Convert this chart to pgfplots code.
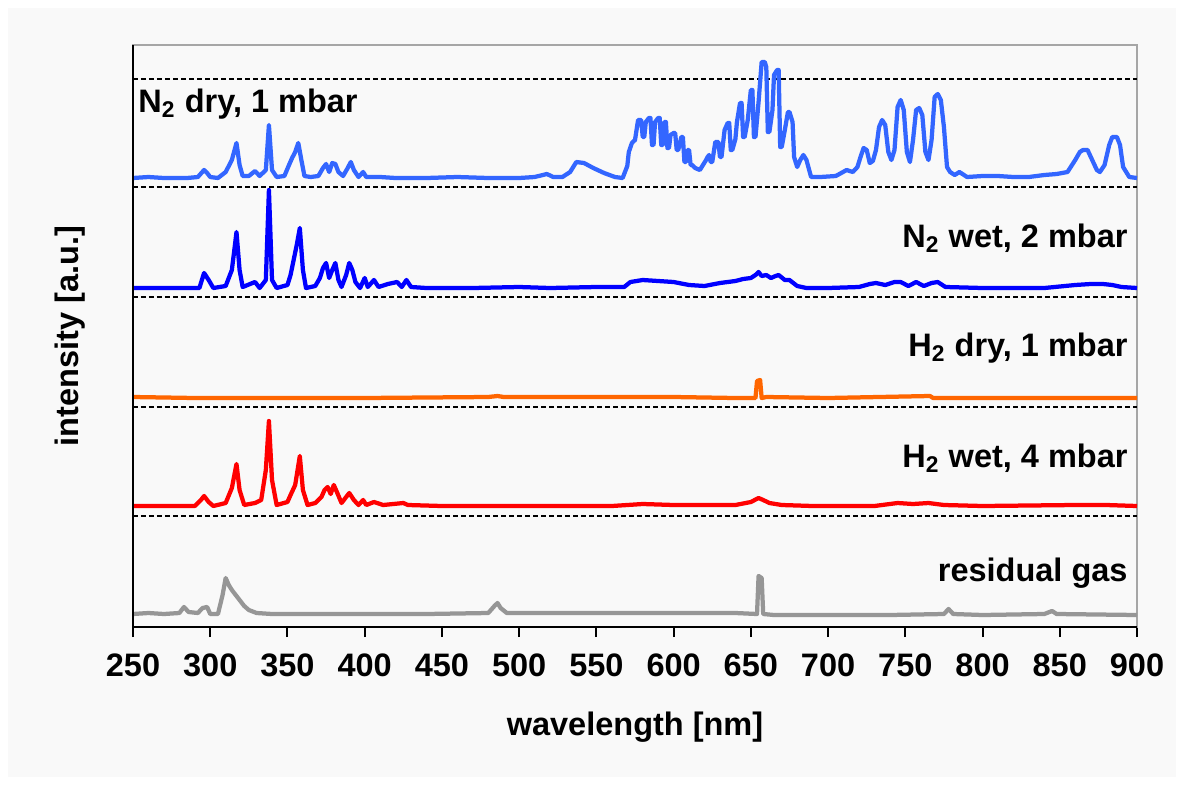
\documentclass[border=0pt]{standalone}
\usepackage{pgfplots}
\pgfplotsset{compat=1.18}
\usepackage{fontspec}
\setmainfont{Liberation Sans}

\definecolor{ndry}{RGB}{51,102,255}
\definecolor{nwet}{RGB}{0,0,255}
\definecolor{hdry}{RGB}{255,102,0}
\definecolor{hwet}{RGB}{255,0,0}
\definecolor{resid}{RGB}{150,150,150}
\definecolor{panel}{RGB}{249,249,249}

\newcommand{\lblfont}{\bfseries\fontsize{13}{15}\selectfont}

\begin{document}
\begin{tikzpicture}
% background, 1px = 0.4pt
\fill[white] (-53.2pt,-63.2pt) rectangle (420.4pt,250.8pt);
\fill[panel] (-50pt,-60pt) rectangle (417.2pt,247.6pt);
\begin{axis}[
  at={(0,0)}, anchor=south west,
  width=401.6pt, height=232.8pt, scale only axis,
  xmin=250, xmax=900, ymin=0, ymax=582,
  xtick={250,300,...,900},
  ytick=\empty,
  tick align=outside,
  xtick pos=bottom,
  major tick length=4pt,
  xtick style={black, line width=0.8pt},
  axis line style={gray!70, line width=0.8pt},
  tick label style={font=\lblfont},
  /pgf/number format/assume math mode=true,
  xticklabel style={yshift=-3pt},
  xlabel={wavelength [nm]},
  ylabel={intensity [a.u.]},
  every axis y label/.style={at={(rel axis cs:0,0.5)}, xshift=-25pt, rotate=90, anchor=center, font=\lblfont},
  every axis x label/.style={at={(rel axis cs:0.5,0)}, yshift=-40pt, anchor=center, font=\lblfont},
  every axis plot/.append style={line join=round},
  clip=false,
]
% separators
\addplot[black, line width=0.6pt, dash pattern=on 2pt off 1.2pt] coordinates {(250,548) (900,548)};
\addplot[black, line width=0.6pt, dash pattern=on 2pt off 1.2pt] coordinates {(250,440) (900,440)};
\addplot[black, line width=0.6pt, dash pattern=on 2pt off 1.2pt] coordinates {(250,330) (900,330)};
\addplot[black, line width=0.6pt, dash pattern=on 2pt off 1.2pt] coordinates {(250,220) (900,220)};
\addplot[black, line width=0.6pt, dash pattern=on 2pt off 1.2pt] coordinates {(250,111) (900,111)};

% N2 dry, 1 mbar
\addplot[ndry, line width=1.7pt] coordinates {
(250,449) (260,450) (270,449) (285,449) (292,450) (296,457) (298,454) (300,450)
(305,449) (310,455) (314,467) (317,484) (319,462) (321,451) (325,451) (329,456)
(332,451) (336,457) (338,502) (340,457) (343,450) (348,451) (351,462) (353,469)
(355,475) (357,484) (359,467) (361,451) (365,450) (370,451) (373,459) (375,463)
(377,455) (379,464) (381,463) (383,455) (386,451) (389,459) (391,465) (393,457)
(396,450) (399,455) (401,450) (410,450) (420,449) (440,449) (460,450) (480,449)
(500,449) (510,450) (518,453) (522,450) (528,450) (533,455) (537,465) (542,464)
(548,459) (555,454) (562,450) (567,449)
(570,461) (571,475) (573,484) (575,487) (577,507) (579,507) (580,490) (581,490)
(582,505) (584,509) (585,509) (586,482) (587,482) (588,505) (590,509) (591,509)
(592,482) (593,482) (594,505) (595,505) (596,479) (597,479) (598,492) (600,494)
(601,494) (602,477) (603,477) (605,490) (606,490) (607,465) (608,465) (609,477)
(610,477) (611,462) (612,462) (614,459) (617,457) (619,462) (621,467) (622,470)
(623,472) (624,465) (625,465) (627,485) (629,485) (630,470) (631,470) (633,497)
(635,504) (636,504) (637,477) (638,477) (640,488) (641,505) (643,524) (644,524)
(645,490) (646,490) (648,507) (650,537) (651,537) (652,490) (653,490) (655,525)
(657,565) (659,565) (660,560) (661,495) (662,495) (664,517) (665,552) (667,557)
(668,557) (669,480) (670,480) (672,497) (674,515) (675,515) (677,505) (678,470)
(680,460) (682,467) (684,472) (686,467) (689,450) (695,450) (705,451) (712,457)
(716,455) (719,460) (721,470) (723,479) (725,477) (727,464) (729,466) (731,477)
(733,500) (735,507) (737,502) (739,475) (741,467) (743,477) (745,520) (747,527)
(749,517) (751,475) (753,465) (755,487) (757,517) (759,519) (761,512) (763,475)
(765,467) (767,487) (769,530) (771,533) (773,527) (775,500) (777,460) (779,455)
(782,452) (785,455) (790,450)
(800,451) (810,451) (820,450) (830,450) (840,452) (848,453) (855,455) (860,467)
(863,475) (865,477) (868,477) (871,467) (874,457) (876,455) (879,462) (882,482)
(884,490) (887,490) (889,482) (891,460) (895,450) (900,449)
};

% N2 wet, 2 mbar
\addplot[nwet, line width=1.7pt] coordinates {
(250,339) (270,339) (285,339) (293,339) (296,354) (299,347) (302,339) (310,341)
(314,357) (316,382) (317,395) (319,357) (321,340) (329,345) (332,339) (336,347)
(338,437) (340,347) (343,339) (350,342) (352,352) (354,367) (356,382) (358,399)
(360,357) (362,339) (368,341) (371,349) (373,359) (375,364) (377,349) (379,357)
(381,364) (383,347) (385,340) (388,352) (390,364) (392,357) (394,345) (397,339)
(400,349) (402,340) (406,347) (409,340) (415,343) (421,345) (424,340) (427,347)
(430,340) (440,339) (470,339) (500,340) (520,339) (550,340) (568,340) (572,345)
(580,347) (590,346) (600,345) (610,342) (620,341) (630,344) (640,346) (645,348)
(650,349) (653,352) (655,355) (657,351) (660,352) (663,349) (666,351) (668,352)
(672,347) (675,347) (680,341) (686,339) (700,339) (720,340) (727,343) (731,344)
(737,342) (743,345) (747,345) (752,341) (757,345) (762,341) (767,344) (771,345)
(776,340) (800,339) (840,339) (860,342) (870,343) (878,343) (884,342) (890,340)
(900,339)
};

% H2 dry, 1 mbar
\addplot[hdry, line width=1.7pt] coordinates {
(250,230) (290,229) (330,229) (400,229) (480,230) (486,231) (490,230) (550,230)
(600,230) (640,229) (653,229) (654,246) (656,247) (657,229) (660,230) (700,229)
(766,231) (768,229) (800,229) (900,229)
};

% H2 wet, 4 mbar
\addplot[hwet, line width=1.7pt] coordinates {
(250,121) (290,121) (294,127) (296,131) (299,125) (302,121) (310,124) (314,139)
(317,163) (319,137) (322,122) (329,124) (333,127) (336,157) (338,206) (340,147)
(343,122) (350,125) (352,132) (355,142) (358,171) (360,137) (363,122) (368,124)
(372,130) (374,137) (376,140) (378,133) (380,142) (382,135) (385,124) (388,130)
(390,134) (393,127) (396,122) (399,127) (401,122) (406,125) (412,122) (425,124)
(428,122) (450,121) (500,121) (560,121) (580,123) (600,122) (640,122) (650,125)
(655,129) (658,127) (662,124) (670,122) (690,121) (730,121) (745,124) (755,123)
(765,124) (775,122) (800,121) (860,122) (880,122) (900,121)
};

% residual gas
\addplot[resid, line width=1.7pt] coordinates {
(250,13) (260,14) (270,13) (280,14) (283,20) (286,15) (292,14) (295,19)
(298,20) (300,13) (305,13) (308,32) (310,49) (312,42) (314,37) (316,33)
(319,27) (322,21) (325,17) (330,14) (340,13) (360,13) (400,13) (440,13)
(480,14) (484,21) (486,24) (488,19) (492,14) (520,14) (560,14) (600,14)
(640,14) (654,13) (655,51) (657,49) (658,13) (665,12) (700,12) (740,12)
(775,13) (778,18) (781,13) (800,12) (840,13) (845,16) (848,13) (900,12)
};

\node[anchor=west, inner sep=0, font=\lblfont] at (axis cs:253.2,523) {N\textsubscript{2} dry, 1 mbar};
\node[anchor=east, inner sep=0, font=\lblfont] at (axis cs:894.2,389) {N\textsubscript{2} wet, 2 mbar};
\node[anchor=east, inner sep=0, font=\lblfont] at (axis cs:894.2,279) {H\textsubscript{2} dry, 1 mbar};
\node[anchor=east, inner sep=0, font=\lblfont] at (axis cs:894.2,169) {H\textsubscript{2} wet, 4 mbar};
\node[anchor=east, inner sep=0, font=\lblfont] at (axis cs:894.2,54) {residual gas};

\draw[black, line width=0.8pt] (rel axis cs:0,1) -- (rel axis cs:0,0) -- (rel axis cs:1,0);
\end{axis}
\end{tikzpicture}
\end{document}
